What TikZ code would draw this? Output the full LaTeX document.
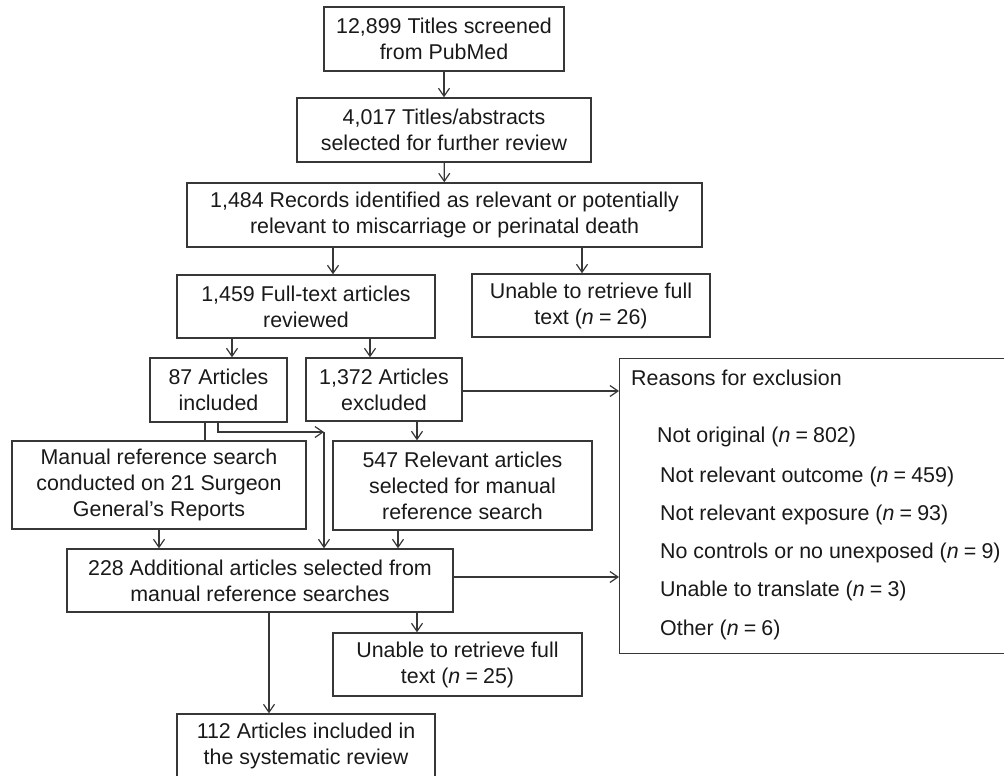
\documentclass[tikz,border=0pt]{standalone}
\usepackage{fontspec}
\setmainfont{Liberation Sans}
\usetikzlibrary{positioning,arrows.meta}
\definecolor{boxline}{RGB}{55,55,55}
\definecolor{boxtext}{RGB}{25,25,25}
\tikzset{
  stepbox/.style  = {draw=boxline, line width=1.4pt, align=center, inner sep=0pt,
                     text=boxtext, font=\fontsize{21.4}{26}\selectfont},
  flowedge/.style = {-{Straight Barb[length=8pt,width=11pt]}, line width=1.2pt, boxline},
  plainedge/.style= {line width=1.2pt, boxline},
  rsnlbl/.style   = {anchor=west, inner sep=0pt, text=boxtext,
                     font=\fontsize{21.4}{26}\selectfont}
}
\newcommand{\nval}[1]{(\textit{n}\hspace{0.24em}=\hspace{0.24em}#1)}

\begin{document}
\begin{tikzpicture}[x=1pt, y=-1pt]
  \clip (0,0) rectangle (1004,776);
  % Screening
  \node[stepbox, minimum width=240pt, minimum height=64pt] (scr) at (444,39)
       {12,899 Titles screened\\from PubMed};
  \node[stepbox, minimum width=294pt, minimum height=64pt] (tia) at (444,130)
       {4,017 Titles/abstracts\\selected for further review};
  \node[stepbox, minimum width=515pt, minimum height=64pt] (rec) at (444.5,215)
       {1,484 Records identified as relevant or potentially\\relevant to miscarriage or perinatal death};
  % Full text
  \node[stepbox, minimum width=258pt, minimum height=63pt] (ful) at (306,306.5)
       {1,459 Full-text articles\\reviewed};
  \node[stepbox, minimum width=238pt, minimum height=63pt] (u26) at (591,305.5)
       {Unable to retrieve full\\text \nval{26}};
  \node[stepbox, minimum width=137pt, minimum height=64pt] (i87) at (218.5,390)
       {87 Articles\\included};
  \node[stepbox, minimum width=156pt, minimum height=63pt] (x1372) at (384,389.5)
       {1,372 Articles\\excluded};
  % Manual search
  \node[stepbox, minimum width=294pt, minimum height=88pt] (man) at (159,485)
       {Manual reference search\\conducted on 21 Surgeon\\General's Reports};
  \node[stepbox, minimum width=259pt, minimum height=89pt] (r547) at (462.5,485.5)
       {547 Relevant articles\\selected for manual\\reference search};
  \node[stepbox, minimum width=386pt, minimum height=63pt] (add) at (260,580.5)
       {228 Additional articles selected from\\manual reference searches};
  \node[stepbox, minimum width=249pt, minimum height=63pt] (u25) at (457.5,664.5)
       {Unable to retrieve full\\text \nval{25}};
  \node[stepbox, minimum width=258pt, minimum height=64pt] (fin) at (306,746)
       {112 Articles included in\\the systematic review};
  % Reasons for exclusion
  \node[stepbox, anchor=north west, minimum width=400pt, minimum height=295pt] (rsn) at (619,358) {};
  \node[rsnlbl] (rt) at (631,378) {Reasons for exclusion};
  \node[rsnlbl] (ra) at (657,437) {Not original \nval{802}};
  \node[rsnlbl] (rb) at (660,477) {Not relevant outcome \nval{459}};
  \node[rsnlbl] (rc) at (660,515) {Not relevant exposure \nval{93}};
  \node[rsnlbl] (rd) at (660,553) {No controls or no unexposed \nval{9}};
  \node[rsnlbl] (re) at (660,591) {Unable to translate \nval{3}};
  \node[rsnlbl] (rf) at (660,630) {Other \nval{6}};
  % Edges
  \draw[flowedge] (scr) -- (tia);
  \draw[flowedge] (tia) -- (rec);
  \draw[flowedge] ([xshift=27pt]ful.north |- rec.south) -- ([xshift=27pt]ful.north);
  \draw[flowedge] ([xshift=-9pt]u26.north |- rec.south) -- ([xshift=-9pt]u26.north);
  \draw[flowedge] ([xshift=13.5pt]i87.north |- ful.south) -- ([xshift=13.5pt]i87.north);
  \draw[flowedge] ([xshift=-14pt]x1372.north |- ful.south) -- ([xshift=-14pt]x1372.north);
  \draw[flowedge] ([yshift=-1.5pt]x1372.east) -- ([yshift=-1.5pt]x1372.east -| rsn.west);
  \draw[plainedge] ([xshift=-13.5pt]i87.south) -- ([xshift=-13.5pt]i87.south |- man.north);
  \coordinate (jn) at (324,432);
  \draw[flowedge] ([xshift=-0.5pt]i87.south) -- ([xshift=-0.5pt]i87.south |- jn) -- (jn);
  \draw[flowedge] (jn) -- (jn |- add.north);
  \draw[flowedge] ([xshift=-45.5pt]r547.north |- x1372.south) -- ([xshift=-45.5pt]r547.north);
  \draw[flowedge] (man.south) -- (man.south |- add.north);
  \draw[flowedge] ([xshift=-64.5pt]r547.south) -- ([xshift=-64.5pt]r547.south |- add.north);
  \draw[flowedge] ([yshift=3.5pt]add.east) -- ([yshift=3.5pt]add.east -| rsn.west);
  \draw[flowedge] ([xshift=-40.5pt]u25.north |- add.south) -- ([xshift=-40.5pt]u25.north);
  \draw[flowedge] ([xshift=-37pt]fin.north |- add.south) -- ([xshift=-37pt]fin.north);
\end{tikzpicture}
\end{document}
